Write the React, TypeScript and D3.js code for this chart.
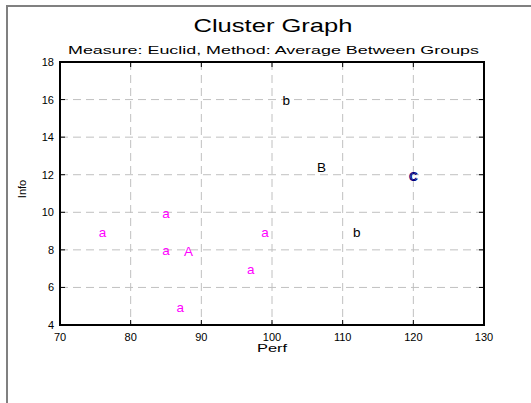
import React from "react";
import * as d3 from 'd3';

// 個案資料 (Perf, Info, 群組)
const casePerf = [76, 85, 85, 87, 97, 99, 102, 112, 120];
const caseInfo = [9, 10, 8, 5, 7, 9, 16, 9, 12];
const caseGroup = ['a', 'a', 'a', 'a', 'a', 'a', 'b', 'b', 'c'];

// 群組中心
const centerLabel = ['A', 'B', 'C'];
const centerPerf = [88.2, 107, 120];
const centerInfo = [8, 12.5, 12];

// 刻度
const xTicks = [70, 80, 90, 100, 110, 120, 130];
const yTicks = [4, 6, 8, 10, 12, 14, 16, 18];

const groupColor: Record<string, string> = { a: '#ff00ff', b: '#000000', c: '#000080' };

const W = 531;
const H = 403;
const plot = { left: 60, right: 484, top: 62, bottom: 325 };
const FONT = "Arial, 'Liberation Sans', sans-serif";

/** 群集散佈圖 */
const App = () => {
    const x = d3.scaleLinear().domain([70, 130]).range([plot.left, plot.right]);
    const y = d3.scaleLinear().domain([4, 18]).range([plot.bottom, plot.top]);
    const tickLen = 5;

    return <svg width={W} height={H} style={{ position: 'absolute', left: 0, top: 0, background: '#fff' }} fontFamily={FONT}>
        {/* 外框 (左/上) */}
        <path d={`M7,${H} L7,6 L${W},6`} fill="none" stroke="#808080" strokeWidth={2} />

        {/* 標題 */}
        <text x={273} y={32} fontSize={19} textAnchor="middle" textLength={159} lengthAdjust="spacingAndGlyphs">Cluster Graph</text>
        <text x={273.5} y={54} fontSize={11.5} textAnchor="middle" textLength={411} lengthAdjust="spacingAndGlyphs">Measure: Euclid, Method: Average Between Groups</text>

        {/* 格線 */}
        {xTicks.slice(1, -1).map(t =>
            <line key={'gx' + t} x1={x(t)} x2={x(t)} y1={plot.top} y2={plot.bottom} stroke="#c0c0c0" strokeDasharray="8,5" />
        )}
        {yTicks.slice(1, -1).map(t =>
            <line key={'gy' + t} x1={plot.left} x2={plot.right} y1={y(t)} y2={y(t)} stroke="#c0c0c0" strokeDasharray="8,5" />
        )}

        {/* 刻度線 (四邊向內) */}
        {xTicks.map(t => <React.Fragment key={'tx' + t}>
            <line x1={x(t)} x2={x(t)} y1={plot.bottom} y2={plot.bottom - tickLen} stroke="#000" />
            <line x1={x(t)} x2={x(t)} y1={plot.top} y2={plot.top + tickLen} stroke="#000" />
        </React.Fragment>)}
        {yTicks.map(t => <React.Fragment key={'ty' + t}>
            <line x1={plot.left} x2={plot.left + tickLen} y1={y(t)} y2={y(t)} stroke="#000" />
            <line x1={plot.right} x2={plot.right - tickLen} y1={y(t)} y2={y(t)} stroke="#000" />
        </React.Fragment>)}

        {/* 繪圖區外框 */}
        <rect x={plot.left} y={plot.top} width={plot.right - plot.left} height={plot.bottom - plot.top}
            fill="none" stroke="#000" strokeWidth={2} />

        {/* 刻度文字 */}
        {xTicks.map(t =>
            <text key={'lx' + t} x={x(t)} y={340.5} fontSize={11} textAnchor="middle">{t}</text>
        )}
        {yTicks.map(t =>
            <text key={'ly' + t} x={54} y={y(t) + 4} fontSize={11} textAnchor="end">{t}</text>
        )}

        {/* 軸標題 */}
        <text x={272} y={351.5} fontSize={10.5} textAnchor="middle" textLength={30} lengthAdjust="spacingAndGlyphs">Perf</text>
        <text transform="translate(26,189) rotate(-90)" fontSize={11} textAnchor="middle">Info</text>

        {/* 個案標籤 */}
        {casePerf.map((p, i) =>
            <text key={'c' + i} x={x(p)} y={y(caseInfo[i]) + 5.5} fontSize={13.5} textAnchor="middle"
                fill={groupColor[caseGroup[i]]}>{caseGroup[i]}</text>
        )}

        {/* 群組中心標籤 */}
        {centerPerf.map((p, i) =>
            <text key={'m' + i} x={x(p)} y={y(centerInfo[i]) + 6.5} fontSize={13.5} textAnchor="middle"
                fill={groupColor[centerLabel[i].toLowerCase()]}>{centerLabel[i]}</text>
        )}
    </svg>
}

export default App
